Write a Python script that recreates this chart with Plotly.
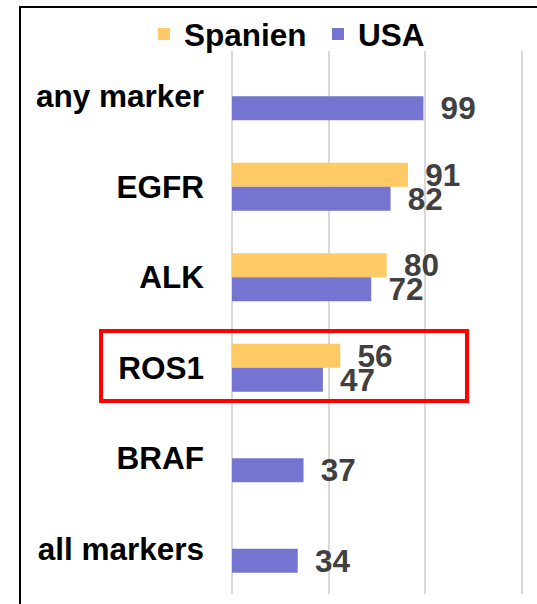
import plotly.graph_objects as go

# ---- data ----
categories = ["any marker", "EGFR", "ALK", "ROS1", "BRAF", "all markers"]
spanien = [None, 91, 80, 56, None, None]
usa = [99, 82, 72, 47, 37, 34]
series_names = ["Spanien", "USA"]
series_colors = ["#FFCA66", "#7575D1"]
x_ticks = [0, 50, 100, 150]
x_range = [0, 151]

FONT = "Arial, 'Liberation Sans', sans-serif"
FS = 31.5
W, H = 537, 604
L, R, T, B = 232, 13, 51, 10
PW, PH = W - L - R, H - T - B


def px_x(p):
    return (p - L) / PW


def px_y(p):
    return (H - B - p) / PH


fig = go.Figure()
for name, vals, col in zip(series_names, [spanien, usa], series_colors):
    fig.add_trace(go.Bar(
        y=categories, x=vals, name=name, orientation="h",
        marker=dict(color=col, line=dict(width=0)),
        texttemplate="\u2009\u2005%{x}", textposition="outside",
        constraintext="none", cliponaxis=False,
        textfont=dict(size=FS, color="#404040", family=FONT, weight="bold"),
    ))

fig.update_layout(
    width=W, height=H,
    margin=dict(l=L, r=R, t=T, b=B, pad=0, autoexpand=False),
    paper_bgcolor="white", plot_bgcolor="white",
    barmode="group", bargap=0.47, bargroupgap=0,
    font=dict(family=FONT, size=FS, color="black", weight="bold"),
    showlegend=True,
    legend=dict(orientation="h", x=px_x(144), y=px_y(34),
                xanchor="left", yanchor="middle",
                entrywidth=129, entrywidthmode="pixels",
                font=dict(size=FS, family=FONT, color="black", weight="bold"),
                bgcolor="rgba(0,0,0,0)", traceorder="normal"),
    xaxis=dict(range=x_range, tickvals=x_ticks, showticklabels=False,
               showgrid=True, gridcolor="#D9D9D9", gridwidth=1.5,
               zeroline=True, zerolinecolor="#D9D9D9", zerolinewidth=1.5,
               showline=False, ticks=""),
    yaxis=dict(categoryorder="array", categoryarray=categories,
               autorange="reversed", showgrid=False, zeroline=False,
               showline=False, ticks="", ticklabelstandoff=27,
               tickfont=dict(size=FS, family=FONT, color="black", weight="bold")),
    shapes=[
        dict(type="rect", xref="paper", yref="paper",
             x0=px_x(20), x1=px_x(560), y0=px_y(620), y1=px_y(7),
             line=dict(color="black", width=2), fillcolor="rgba(0,0,0,0)"),
        dict(type="rect", xref="paper", yref="paper",
             x0=px_x(101), x1=px_x(467), y0=px_y(401), y1=px_y(331),
             line=dict(color="#FF0000", width=4), fillcolor="rgba(0,0,0,0)"),
    ],
)

fig.write_html("out.html",
               config={"displayModeBar": False},
               post_script="document.body.style.margin='0';"
                           "document.body.style.padding='0';")
